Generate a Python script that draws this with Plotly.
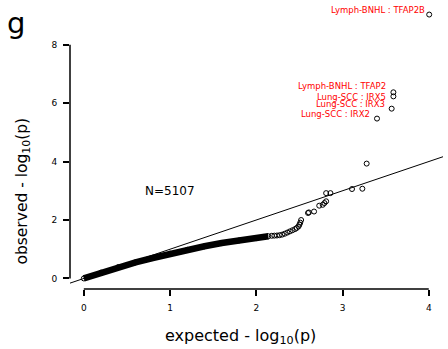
import plotly.graph_objects as go

# ---------------- data ----------------
# dense part of the QQ curve (expected, observed)
band_expected = [0.0, 0.2, 0.4, 0.6, 0.8, 1.0, 1.2, 1.4, 1.6, 1.8, 2.0, 2.08, 2.14]
band_observed = [0.0, 0.2, 0.39, 0.55, 0.70, 0.85, 0.98, 1.10, 1.21, 1.30, 1.38, 1.42, 1.445]

# sparser upper tail points
tail_expected = [2.18, 2.21, 2.24, 2.27, 2.30, 2.33, 2.36, 2.39, 2.42, 2.45, 2.47, 2.49,
                 2.50, 2.51, 2.52, 2.60, 2.61, 2.67, 2.73, 2.77, 2.79, 2.81, 2.81, 2.86,
                 3.11, 3.23, 3.28]
tail_observed = [1.46, 1.465, 1.47, 1.48, 1.50, 1.53, 1.57, 1.61, 1.65, 1.69, 1.73, 1.78,
                 1.84, 1.91, 2.00, 2.24, 2.26, 2.29, 2.49, 2.52, 2.58, 2.64, 2.92, 2.92,
                 3.06, 3.07, 3.93]

# labelled top hits
hit_labels = ["Lung-SCC : IRX2", "Lung-SCC : IRX3", "Lung-SCC : IRX5",
              "Lymph-BNHL : TFAP2", "Lymph-BNHL : TFAP2B"]
hit_expected = [3.40, 3.57, 3.59, 3.59, 4.005]
hit_observed = [5.47, 5.81, 6.23, 6.37, 9.03]

n_tests = 5107
x_ticks = [0, 1, 2, 3, 4]
y_ticks = [0, 2, 4, 6, 8]
panel_letter = "g"

# ---------------- layout helpers ----------------
all_x = band_expected + tail_expected + hit_expected
all_y = band_observed + tail_observed + hit_observed
xmin, xmax = 0.0, max(all_x)
ymin, ymax = 0.0, max(all_y)
xpad = 0.04 * (xmax - xmin)
ypad = 0.04 * (ymax - ymin)
xlo, xhi = xmin - xpad, xmax + xpad
ylo, yhi = ymin - ypad, ymax + ypad

FONT = "DejaVu Sans"
label_yshift = [4.7, 5.0, -0.3, 6.0, 4.3]
label_xshift = [-5, -5, -5, -5, -2.5]

fig = go.Figure()

# reference y = x line across the plotting region
fig.add_trace(go.Scatter(x=[xlo, xhi], y=[xlo, xhi], mode="lines",
                         line=dict(color="black", width=1), hoverinfo="skip"))

marker_style = dict(symbol="circle-open", size=5, color="black",
                    line=dict(width=1, color="black"))

# dense band
fig.add_trace(go.Scatter(x=band_expected, y=band_observed, mode="lines+markers",
                         line=dict(color="black", width=6.5), marker=marker_style))

# tail
fig.add_trace(go.Scatter(x=tail_expected, y=tail_observed, mode="markers",
                         marker=marker_style))

# hits
fig.add_trace(go.Scatter(x=hit_expected, y=hit_observed, mode="markers",
                         marker=marker_style))

for lab, hx, hy, ys, xs in zip(hit_labels, hit_expected, hit_observed, label_yshift, label_xshift):
    fig.add_annotation(x=hx, y=hy, xref="x", yref="y", text=lab, showarrow=False,
                       xanchor="right", yanchor="middle", xshift=xs, yshift=ys,
                       font=dict(family=FONT, size=8.5, color="#ff0000"))

fig.add_annotation(x=1, y=3, xref="x", yref="y", text=f"N={n_tests}", showarrow=False,
                   xanchor="center", yanchor="middle",
                   font=dict(family=FONT, size=12, color="black"))

# axis titles
fig.add_annotation(x=0.458, y=-0.165, xref="paper", yref="paper",
                   text="expected - log<sub>10</sub>(p)", showarrow=False,
                   xanchor="center", yanchor="middle",
                   font=dict(family=FONT, size=16, color="black"))
fig.add_annotation(x=-0.127, y=0.344, xref="paper", yref="paper",
                   text="observed - log<sub>10</sub>(p)", showarrow=False, textangle=-90,
                   xanchor="center", yanchor="middle",
                   font=dict(family=FONT, size=15.5, color="black"))

# panel letter
fig.add_annotation(x=-0.175, y=1.0, xref="paper", yref="paper", text=panel_letter,
                   showarrow=False, xanchor="left", yanchor="top",
                   font=dict(family=FONT, size=29, color="black"))

# detached R-style axis lines spanning the tick range
fig.add_shape(type="line", xref="x", yref="paper", x0=x_ticks[0], x1=x_ticks[-1],
              y0=0, y1=0, line=dict(color="black", width=1.5))
fig.add_shape(type="line", xref="paper", yref="y", x0=0, x1=0,
              y0=y_ticks[0], y1=y_ticks[-1], line=dict(color="black", width=1.5))

fig.update_layout(
    width=448, height=349,
    margin=dict(l=70, r=5, t=4, b=60),
    paper_bgcolor="white", plot_bgcolor="white",
    showlegend=False,
    xaxis=dict(range=[xlo, xhi], tickvals=x_ticks, ticks="outside", ticklen=6,
               tickwidth=1.5, tickcolor="black", showline=False, showgrid=False,
               zeroline=False, tickfont=dict(family=FONT, size=9, color="black"),
               ticklabelstandoff=4),
    yaxis=dict(range=[ylo, yhi], tickvals=y_ticks, ticks="outside", ticklen=6,
               tickwidth=1.5, tickcolor="black", showline=False, showgrid=False,
               zeroline=False, tickfont=dict(family=FONT, size=9, color="black"),
               ticklabelstandoff=4),
)

fig.write_html("out.html")
